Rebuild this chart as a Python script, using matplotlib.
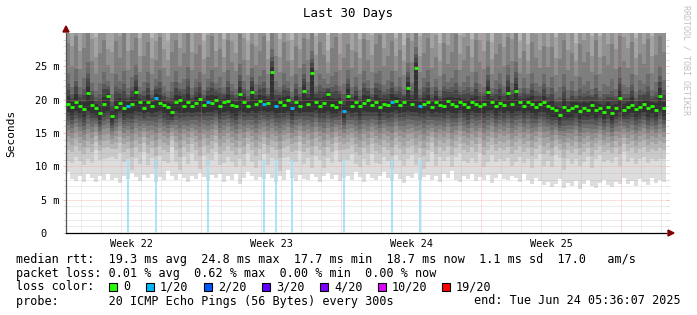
import matplotlib
matplotlib.use("Agg")
import matplotlib.pyplot as plt
import matplotlib.dates as mdates
import numpy as np
from datetime import datetime, timedelta
from matplotlib.patches import Polygon, Rectangle

# ------------------------------------------------------------------ data
END = datetime(2025, 6, 24, 5, 36, 7)
DAYS = 30

# median round-trip time per column (ms)
median_ms = [
    19.4, 18.9, 19.7, 19.1, 18.6, 21.0, 19.2, 18.7, 18.0, 19.3,
    20.5, 17.6, 18.9, 19.5, 18.7, 19.0, 19.4, 21.1, 19.6, 18.8,
    19.7, 19.1, 20.3, 19.5, 19.2, 18.9, 18.2, 19.6, 19.9, 19.1,
    19.7, 19.0, 19.5, 20.1, 19.2, 19.7, 19.5, 20.0, 19.1, 19.6,
    19.8, 19.2, 19.0, 20.8, 19.6, 19.1, 21.1, 19.4, 19.8, 19.4,
    19.5, 24.2, 19.0, 19.7, 19.2, 19.9, 18.8, 19.6, 19.1, 21.3,
    19.4, 24.0, 19.7, 19.1, 19.5, 20.8, 19.2, 18.9, 19.7, 18.3,
    20.6, 19.1, 19.6, 19.0, 19.5, 19.9, 19.2, 19.7, 18.9, 19.4,
    19.2, 19.7, 19.8, 19.2, 19.6, 21.7, 19.3, 24.8, 19.1, 19.4,
    19.6, 18.9, 19.7, 19.2, 19.1, 19.8, 19.4, 19.0, 19.6, 19.3,
    18.9, 19.7, 19.4, 19.1, 19.3, 21.2, 19.6, 19.0, 19.5, 19.2,
    21.0, 19.3, 21.3, 19.6, 19.1, 19.7, 19.4, 18.9, 19.3, 19.6,
    19.0, 18.8, 18.5, 17.7, 18.9, 18.4, 18.7, 19.1, 18.3, 18.8,
    18.5, 19.2, 18.4, 18.8, 18.2, 18.9, 18.0, 18.7, 20.2, 18.5,
    18.9, 19.2, 18.6, 18.9, 19.3, 18.7, 19.0, 18.5, 20.6, 18.7,
]

# fastest ping per column (ms) - lower edge of the smoke
ping_min_ms = [
    9.2, 8.1, 7.8, 8.6, 7.6, 8.9, 8.2, 7.7, 8.5, 8.0,
    8.8, 7.9, 8.3, 7.5, 8.6, 8.1, 9.0, 8.4, 7.8, 8.7,
    8.2, 8.9, 7.6, 8.4, 8.0, 9.3, 8.5, 7.9, 8.8, 8.3,
    7.7, 8.6, 8.1, 9.0, 8.4, 7.8, 8.7, 8.2, 8.9, 7.6,
    8.5, 8.0, 8.8, 7.4, 8.3, 9.1, 8.6, 7.9, 8.4, 8.1,
    8.9, 8.2, 7.7, 8.6, 8.0, 9.4, 8.3, 7.8, 8.7, 8.1,
    7.9, 8.8, 8.4, 7.6, 8.5, 9.0, 8.1, 8.7, 7.8, 8.3,
    8.6, 8.0, 9.2, 8.4, 7.7, 8.8, 8.2, 7.9, 8.5, 9.1,
    8.3, 7.8, 8.9, 8.1, 7.5, 8.6, 8.2, 9.0, 7.9, 8.4,
    8.7, 8.0, 8.5, 7.6, 8.8, 8.2, 9.3, 8.0, 7.7, 8.6,
    8.1, 8.9, 7.8, 8.4, 8.0, 8.7, 7.5, 8.3, 8.9, 8.1,
    7.9, 8.5, 8.2, 7.6, 8.8, 8.0, 7.4, 8.3, 7.8, 7.2,
    7.6, 6.9, 7.4, 8.1, 6.8, 7.5, 7.0, 7.8, 6.6, 7.3,
    7.9, 7.1, 6.7, 7.5, 8.0, 7.2, 6.9, 7.7, 7.4, 8.2,
    7.3, 7.8, 7.0, 8.1, 7.6, 7.2, 8.3, 7.5, 7.9, 7.7,
]

# 5th of 20 sorted pings per column (ms) - lower spread of the smoke
ping_p5_ms = [
    14.6, 14.2, 15.0, 14.4, 13.9, 14.8, 14.3, 15.2, 14.0, 14.7,
    14.9, 14.1, 14.5, 15.3, 14.2, 14.6, 13.8, 14.9, 14.4, 15.1,
    14.3, 14.7, 14.0, 15.0, 14.5, 14.2, 15.2, 14.6, 13.9, 14.8,
    14.4, 15.1, 14.6, 14.0, 14.9, 14.3, 14.7, 15.4, 14.1, 14.5,
    15.0, 14.4, 13.9, 14.8, 14.2, 15.1, 14.6, 14.0, 14.7, 15.2,
    14.3, 14.9, 14.5, 13.8, 14.7, 15.0, 14.2, 14.6, 15.3, 14.4,
    14.8, 14.1, 15.1, 14.5, 14.0, 14.9, 14.3, 15.2, 14.6, 14.2,
    14.7, 15.0, 14.4, 13.9, 14.8, 14.3, 15.1, 14.5, 14.1, 14.9,
    14.5, 14.0, 15.2, 14.6, 14.2, 14.8, 15.0, 14.3, 14.7, 13.9,
    14.6, 15.1, 14.2, 14.8, 14.4, 15.0, 14.1, 14.7, 15.3, 14.5,
    14.2, 14.9, 14.4, 15.1, 14.0, 14.6, 15.2, 14.3, 14.8, 14.5,
    14.9, 14.1, 14.6, 15.0, 14.3, 14.8, 14.0, 14.5, 15.1, 14.2,
    14.4, 13.8, 14.7, 14.1, 13.6, 14.3, 14.0, 14.6, 13.7, 14.2,
    14.5, 13.9, 14.3, 14.8, 14.0, 14.4, 13.8, 14.6, 14.2, 14.9,
    14.3, 14.7, 14.0, 14.5, 14.9, 14.1, 14.6, 14.2, 14.8, 14.4,
]

# 15th of 20 sorted pings per column (ms) - upper spread of the smoke
ping_p15_ms = [
    28.5, 25.0, 29.6, 24.6, 27.8, 30.2, 25.8, 23.8, 27.0, 29.0,
    25.2, 24.0, 28.8, 26.2, 30.0, 24.5, 27.4, 29.2, 24.2, 26.6,
    28.6, 23.9, 26.0, 29.4, 24.8, 23.6, 27.2, 28.9, 25.1, 27.0,
    30.1, 24.4, 26.8, 28.2, 23.8, 26.4, 29.5, 24.9, 27.6, 24.1,
    29.0, 25.6, 24.3, 29.8, 26.0, 23.7, 28.4, 25.2, 27.3, 29.6,
    23.9, 31.0, 26.5, 24.2, 28.7, 25.8, 23.6, 28.0, 24.8, 29.3,
    25.9, 30.5, 24.4, 28.6, 26.7, 24.0, 27.8, 29.4, 24.5, 26.3,
    28.4, 24.7, 27.1, 23.8, 29.1, 25.9, 24.2, 28.3, 29.7, 25.0,
    26.6, 28.8, 24.3, 27.5, 23.7, 29.3, 25.6, 31.0, 24.1, 27.0,
    29.2, 24.8, 26.4, 23.6, 28.5, 25.4, 27.2, 29.9, 24.4, 26.0,
    28.1, 24.2, 29.0, 25.7, 24.6, 28.8, 23.9, 26.9, 28.4, 25.0,
    29.4, 25.8, 30.0, 24.0, 27.3, 23.8, 28.6, 26.2, 24.7, 28.0,
    24.9, 27.9, 23.7, 26.1, 28.9, 24.4, 27.0, 23.6, 28.4, 25.6,
    27.2, 24.1, 29.0, 23.9, 26.5, 25.2, 28.3, 24.6, 29.5, 25.8,
    24.8, 28.6, 23.7, 26.9, 25.3, 29.1, 24.0, 26.7, 29.6, 27.2,
]

# lost pings (out of 20) per column
loss_pings = [
    0, 0, 0, 0, 0, 0, 0, 0, 0, 0,
    0, 0, 0, 0, 0, 1, 0, 0, 0, 0,
    0, 0, 1, 0, 0, 0, 0, 0, 0, 0,
    0, 0, 0, 0, 0, 1, 0, 0, 0, 0,
    0, 0, 0, 0, 0, 0, 0, 0, 0, 1,
    0, 0, 1, 0, 0, 0, 1, 0, 0, 0,
    0, 0, 0, 0, 0, 0, 0, 0, 0, 1,
    0, 0, 0, 0, 0, 0, 0, 0, 0, 0,
    0, 1, 0, 0, 0, 0, 0, 0, 1, 0,
    0, 0, 0, 0, 0, 0, 0, 0, 0, 0,
    0, 0, 0, 0, 0, 0, 0, 0, 0, 0,
    0, 0, 0, 0, 0, 0, 0, 0, 0, 0,
    0, 0, 0, 0, 0, 0, 0, 0, 0, 0,
    0, 0, 0, 0, 0, 0, 0, 0, 0, 0,
    0, 0, 0, 0, 0, 0, 0, 0, 0, 0,
]

# shape of the ping distribution (relative spacing of sorted pings)
lower_ratio = [1.78, 1.44, 1.2, 1.0, 0.82, 0.67, 0.53, 0.4, 0.27]   # pings 2..10
upper_ratio = [0.12, 0.23, 0.32, 0.5, 1.0, 1.5, 2.1, 2.8, 3.8, 5.5]  # pings 11..20

loss_labels = ["0", "1/20", "2/20", "3/20", "4/20", "10/20", "19/20"]
loss_levels = [0, 1, 2, 3, 4, 10, 19]
loss_colors = ["#26ff00", "#00b8ff", "#0059ff", "#5e00ff", "#7e00ff", "#dd00ff", "#ff0000"]

y_ticks = [0, 5, 10, 15, 20, 25]
y_tick_labels = ["0  ", "5 m", "10 m", "15 m", "20 m", "25 m"]
week_labels = ["Week 22", "Week 23", "Week 24", "Week 25"]

legend_rtt = "median rtt:  19.3 ms avg  24.8 ms max  17.7 ms min  18.7 ms now  1.1 ms sd  17.0   am/s"
legend_loss = "packet loss: 0.01 % avg  0.62 % max  0.00 % min  0.00 % now"
legend_color = "loss color:"
legend_probe = "probe:       20 ICMP Echo Pings (56 Bytes) every 300s"
end_text = "end: Tue Jun 24 05:36:07 2025"

# ------------------------------------------------------------------ figure
W, H = 697, 315
MONO = "DejaVu Sans Mono"
fig = plt.figure(figsize=(W / 100, H / 100), dpi=100)
fig.patch.set_facecolor("white")
ax = fig.add_axes([66 / W, (H - 233) / H, 600 / W, 200 / H])
ax.set_facecolor("white")

def fx(px):
    return px / W

def fy(py):
    return 1 - py / H

start = END - timedelta(days=DAYS)
N = len(median_ms)
step = timedelta(days=DAYS) / N
edges = mdates.date2num([start + i * step for i in range(N + 1)])
centers = (edges[:-1] + edges[1:]) / 2

med = np.array(median_ms)
pmin = np.array(ping_min_ms)
p5 = np.array(ping_p5_ms)
p15 = np.array(ping_p15_ms)
anchor = np.minimum(med, 19.6)

pings = np.zeros((20, N))
pings[0] = pmin
for k in range(1, 10):
    pings[k] = anchor - (anchor - p5) * lower_ratio[k - 1]
for j in range(10):
    pings[10 + j] = med + (p15 - med) * upper_ratio[j]

def ext(a):
    return np.append(a, a[-1])

shades = [221, 202, 183, 164, 145, 126, 107, 88, 69, 50]
for k in range(10):
    g = shades[k] / 255
    ax.fill_between(edges, ext(pings[k]), ext(pings[19 - k]), step="post",
                    color=(g, g, g), linewidth=0, antialiased=False, zorder=1)

# loss ticks
for c, l in zip(centers, loss_pings):
    if l > 0:
        ax.vlines(c, 0, 11.1, color="#a2e2fa", linewidth=1.3, zorder=3)

# grid
GRID = (0.55, 0.55, 0.55, 0.3)
MGRID = (0.96, 0.50, 0.50, 0.5)
day0 = datetime(start.year, start.month, start.day) + timedelta(days=1)
d = day0
while d < END:
    ax.axvline(mdates.date2num(d), color=MGRID if d.weekday() == 6 else GRID,
               linewidth=0.72, linestyle=(0, (1, 1)), zorder=2)
    d += timedelta(days=1)
for v in range(1, 30):
    ax.axhline(v, color=MGRID if v % 5 == 0 else GRID,
               linewidth=0.72, linestyle=(0, (1, 1)), zorder=2)

# median
col_of = dict(zip(loss_levels, loss_colors))
mcolors = [col_of.get(l, "#00b8ff") for l in loss_pings]
ax.hlines(med, edges[:-1], edges[1:], colors=mcolors, linewidth=2.0, zorder=4)

ax.set_xlim(mdates.date2num(start), mdates.date2num(END))
ax.set_ylim(0, 30)

# axes styling
for s in ["top", "right"]:
    ax.spines[s].set_visible(False)
ax.spines["left"].set_color("#555555")
ax.spines["left"].set_linewidth(0.9)
ax.spines["bottom"].set_color("#000000")
ax.spines["bottom"].set_linewidth(0.9)

ax.set_yticks(y_ticks)
ax.set_yticklabels(y_tick_labels, family=MONO, fontsize=7.4)
ax.set_yticks(list(range(1, 30)), minor=True)
ax.tick_params(axis="y", which="major", length=2.5, width=0.72, color=MGRID,
               pad=2.5, left=True, right=True, direction="out")
ax.tick_params(axis="y", which="minor", length=2.5, width=0.72, color=GRID,
               left=True, right=True, direction="out")

first = mdates.date2num(datetime(2025, 5, 25) + timedelta(days=3, hours=12))
labels_pos = [first + 7 * i for i in range(len(week_labels))]
ax.set_xticks(labels_pos)
ax.set_xticklabels(week_labels, family=MONO, fontsize=7.4)
ax.tick_params(axis="x", length=0, pad=4)

# arrows
arrow_col = "#800000"
fig.patches.append(Polygon([[fx(63), fy(32)], [fx(69), fy(32)], [fx(66), fy(26)]],
                           closed=True, transform=fig.transFigure, color=arrow_col))
fig.patches.append(Polygon([[fx(668), fy(230)], [fx(668), fy(236)], [fx(674), fy(233)]],
                           closed=True, transform=fig.transFigure, color=arrow_col))

# titles
fig.text(fx(348), fy(14), "Last 30 Days", family=MONO, fontsize=9, ha="center", va="center")
fig.text(fx(11), fy(133), "Seconds", family=MONO, fontsize=8, rotation=90, ha="center", va="center")
fig.text(fx(686), fy(60), "RRDTOOL / TOBI OETIKER", family=MONO, fontsize=6, rotation=270,
         ha="center", va="center", color="#c0c0c0")

# legend
LS = 8.5
fig.text(fx(16), fy(259), legend_rtt, family=MONO, fontsize=LS, va="center")
fig.text(fx(16), fy(273), legend_loss, family=MONO, fontsize=LS, va="center")
fig.text(fx(16), fy(287), legend_color, family=MONO, fontsize=LS, va="center")
for lab, colr, bx in zip(loss_labels, loss_colors, [109, 146, 204, 262, 320, 378, 442]):
    fig.patches.append(Rectangle((fx(bx), fy(291)), 8 / W, 8 / H, transform=fig.transFigure,
                                 facecolor=colr, edgecolor="black", linewidth=0.8))
    fig.text(fx(bx + 14), fy(287), lab, family=MONO, fontsize=LS, va="center")
fig.text(fx(16), fy(301), legend_probe, family=MONO, fontsize=LS, va="center")
fig.text(fx(681), fy(301), end_text, family=MONO, fontsize=LS, va="center", ha="right")

fig.savefig("out.png", dpi=100, facecolor="white")
